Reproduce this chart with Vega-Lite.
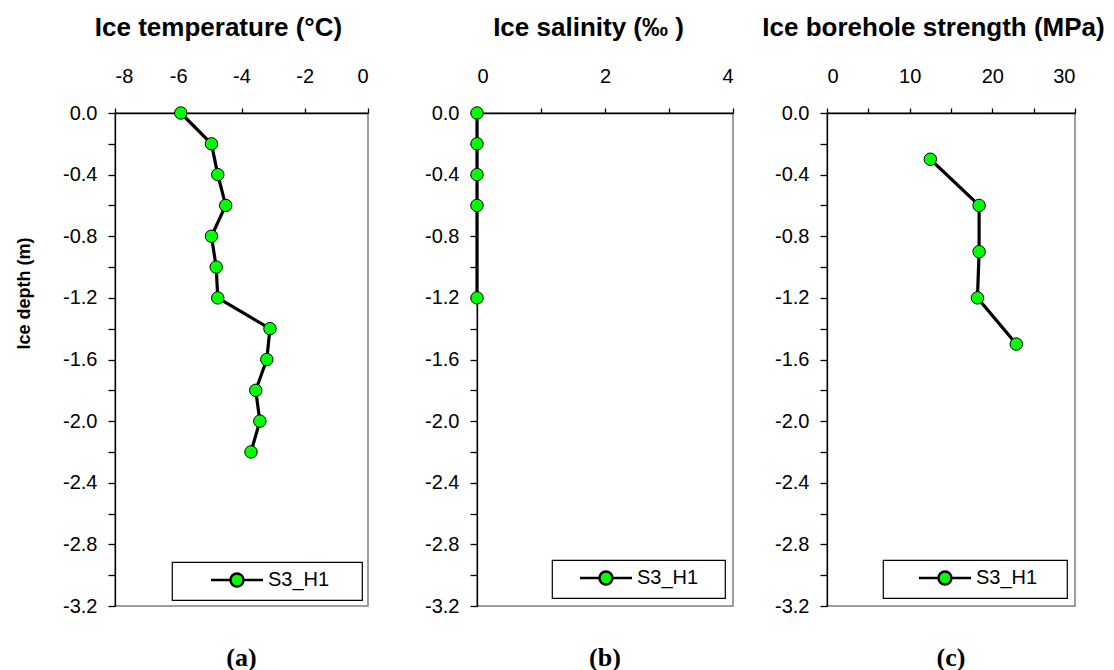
{
  "$schema": "https://vega.github.io/schema/vega-lite/v6.json",
  "background": "white",
  "padding": {"left": 14, "top": 13, "right": 0, "bottom": 0},
  "config": {
    "font": "Liberation Sans",
    "view": {"stroke": "#7f7f7f", "strokeWidth": 1.5},
    "axis": {
      "domainColor": "black", "domainWidth": 1.3, "tickColor": "black", "tickWidth": 1.3,
      "labelColor": "black", "titleColor": "black",
      "labelFont": "Liberation Sans", "labelFontSize": 20,
      "titleFont": "Liberation Sans", "titleFontSize": 26, "titleFontWeight": "bold",
      "grid": false
    },
    "legend": {
      "orient": "bottom-right", "padding": 8, "strokeColor": "black", "strokeWidth": 1.2, "fillColor": "white",
      "symbolSize": 196, "symbolStrokeColor": "black", "symbolStrokeWidth": 2.4, "symbolFillColor": "#00ff00",
      "labelFontSize": 20, "labelFont": "Liberation Sans", "labelColor": "black", "labelOffset": 40
    }
  },
  "datasets": {
    "temp": [
      {"series": "S3_H1", "depth": 0.0, "value": -5.92},
      {"series": "S3_H1", "depth": -0.2, "value": -4.95},
      {"series": "S3_H1", "depth": -0.4, "value": -4.75},
      {"series": "S3_H1", "depth": -0.6, "value": -4.5},
      {"series": "S3_H1", "depth": -0.8, "value": -4.95},
      {"series": "S3_H1", "depth": -1.0, "value": -4.8},
      {"series": "S3_H1", "depth": -1.2, "value": -4.75},
      {"series": "S3_H1", "depth": -1.4, "value": -3.1},
      {"series": "S3_H1", "depth": -1.6, "value": -3.2},
      {"series": "S3_H1", "depth": -1.8, "value": -3.55},
      {"series": "S3_H1", "depth": -2.0, "value": -3.42},
      {"series": "S3_H1", "depth": -2.2, "value": -3.7}
    ],
    "sal": [
      {"series": "S3_H1", "depth": 0.0, "value": 0},
      {"series": "S3_H1", "depth": -0.2, "value": 0},
      {"series": "S3_H1", "depth": -0.4, "value": 0},
      {"series": "S3_H1", "depth": -0.6, "value": 0},
      {"series": "S3_H1", "depth": -1.2, "value": 0}
    ],
    "str": [
      {"series": "S3_H1", "depth": -0.3, "value": 12.5},
      {"series": "S3_H1", "depth": -0.6, "value": 18.4},
      {"series": "S3_H1", "depth": -0.9, "value": 18.4},
      {"series": "S3_H1", "depth": -1.2, "value": 18.2},
      {"series": "S3_H1", "depth": -1.5, "value": 22.9}
    ]
  },
  "spacing": 109,
  "bounds": "flush",
  "resolve": {"scale": {"fill": "independent"}, "legend": {"fill": "independent"}},
  "hconcat": [
    {
      "width": 253, "height": 493,
      "data": {"name": "temp"},
      "title": {"text": "(a)", "orient": "bottom", "font": "Liberation Serif", "fontSize": 26, "fontWeight": "bold", "offset": 29, "anchor": "middle", "color": "black"},
      "encoding": {
        "x": {"field": "value", "type": "quantitative", "scale": {"domain": [-8, 0], "nice": false, "zero": false},
          "axis": {"orient": "top", "values": [-8, -6, -4, -2, 0], "title": "Ice temperature (°C)", "titleX": 103,
            "labelExpr": "replace(format(datum.value,'d'),'\u2212','-')", "tickSize": 5, "labelPadding": 22, "titlePadding": 26,
            "encode": {"ticks": {"update": {"y": {"value": -4}, "y2": {"value": 8}}}}}},
        "y": {"field": "depth", "type": "quantitative", "scale": {"domain": [-3.2, 0], "nice": false, "zero": false},
          "axis": {"title": "Ice depth (m)", "titleFontSize": 18, "titleY": 180, "values": [0, -0.2, -0.4, -0.6, -0.8, -1.0, -1.2, -1.4, -1.6, -1.8, -2.0, -2.2, -2.4, -2.6, -2.8, -3.0, -3.2],
            "labelExpr": "abs(round(datum.value*10)) % 4 == 0 ? replace(format(datum.value,'.1f'),'\u2212','-') : ''",
            "tickSize": 7, "labelPadding": 11, "titlePadding": 29,
            "encode": {"ticks": {"update": {"x": {"value": 6}, "x2": {"signal": "abs(round(datum.value*10)) % 4 == 0 ? -7 : 0"}}}}}}
      },
      "layer": [
        {"mark": {"type": "line", "color": "black", "strokeWidth": 3.2}, "encoding": {"order": {"field": "depth", "sort": "descending"}}},
        {"mark": {"type": "circle", "size": 155, "opacity": 1, "stroke": "black", "strokeWidth": 1},
          "encoding": {"fill": {"field": "series", "type": "nominal", "scale": {"range": ["#00ff00"]},
            "legend": {"title": null, "offset": 6, "symbolOffset": 28,
              "symbolType": "M-1,0L1.78,0M3.64,0L6.43,0M1.78,0A0.93,0.93,0,1,1,3.64,0A0.93,0.93,0,1,1,1.78,0ZM18.6,0"}}}}
      ]
    },
    {
      "spacing": 94,
      "bounds": "flush",
      "resolve": {"scale": {"fill": "independent"}, "legend": {"fill": "independent"}},
      "hconcat": [
        {
          "width": 256, "height": 493,
          "data": {"name": "sal"},
          "title": {"text": "(b)", "orient": "bottom", "font": "Liberation Serif", "fontSize": 26, "fontWeight": "bold", "offset": 29, "anchor": "middle", "color": "black"},
          "encoding": {
            "x": {"field": "value", "type": "quantitative", "scale": {"domain": [0, 4], "nice": false, "zero": false},
              "axis": {"orient": "top", "values": [0, 1, 2, 3, 4], "title": "Ice salinity (‰ )", "titleX": 111,
                "labelExpr": "datum.value % 2 == 0 ? format(datum.value,'d') : ''", "tickSize": 5, "labelPadding": 22, "titlePadding": 26,
                "encode": {"ticks": {"update": {"y": {"value": -4}, "y2": {"signal": "datum.value % 2 == 0 ? 8 : 0"}}}}}},
            "y": {"field": "depth", "type": "quantitative", "scale": {"domain": [-3.2, 0], "nice": false, "zero": false},
              "axis": {"title": null, "values": [0, -0.2, -0.4, -0.6, -0.8, -1.0, -1.2, -1.4, -1.6, -1.8, -2.0, -2.2, -2.4, -2.6, -2.8, -3.0, -3.2],
                "labelExpr": "abs(round(datum.value*10)) % 4 == 0 ? replace(format(datum.value,'.1f'),'\u2212','-') : ''",
                "tickSize": 7, "labelPadding": 11,
                "encode": {"ticks": {"update": {"x": {"value": 6}, "x2": {"signal": "abs(round(datum.value*10)) % 4 == 0 ? -7 : 0"}}}}}}
          },
          "layer": [
            {"mark": {"type": "line", "color": "black", "strokeWidth": 3.2}, "encoding": {"order": {"field": "depth", "sort": "descending"}}},
            {"mark": {"type": "circle", "size": 155, "opacity": 1, "stroke": "black", "strokeWidth": 1},
              "encoding": {"fill": {"field": "series", "type": "nominal", "scale": {"range": ["#00ff00"]},
                "legend": {"title": null, "offset": 8, "symbolOffset": 17,
                  "symbolType": "M-1,0L1.78,0M3.64,0L6.43,0M1.78,0A0.93,0.93,0,1,1,3.64,0A0.93,0.93,0,1,1,1.78,0ZM17.8,0"}}}}
          ]
        },
        {
          "width": 248, "height": 493,
          "data": {"name": "str"},
          "title": {"text": "(c)", "orient": "bottom", "font": "Liberation Serif", "fontSize": 26, "fontWeight": "bold", "offset": 29, "anchor": "middle", "color": "black"},
          "encoding": {
            "x": {"field": "value", "type": "quantitative", "scale": {"domain": [0, 30], "nice": false, "zero": false},
              "axis": {"orient": "top", "values": [0, 5, 10, 15, 20, 25, 30], "title": "Ice borehole strength (MPa)", "titleX": 106,
                "labelExpr": "datum.value % 10 == 0 ? format(datum.value,'d') : ''", "tickSize": 5, "labelPadding": 22, "titlePadding": 26,
                "encode": {"ticks": {"update": {"y": {"value": -4}, "y2": {"signal": "datum.value % 10 == 0 ? 8 : 0"}}}}}},
            "y": {"field": "depth", "type": "quantitative", "scale": {"domain": [-3.2, 0], "nice": false, "zero": false},
              "axis": {"title": null, "values": [0, -0.2, -0.4, -0.6, -0.8, -1.0, -1.2, -1.4, -1.6, -1.8, -2.0, -2.2, -2.4, -2.6, -2.8, -3.0, -3.2],
                "labelExpr": "abs(round(datum.value*10)) % 4 == 0 ? replace(format(datum.value,'.1f'),'\u2212','-') : ''",
                "tickSize": 7, "labelPadding": 11,
                "encode": {"ticks": {"update": {"x": {"value": 6}, "x2": {"signal": "abs(round(datum.value*10)) % 4 == 0 ? -7 : 0"}}}}}}
          },
          "layer": [
            {"mark": {"type": "line", "color": "black", "strokeWidth": 3.2}, "encoding": {"order": {"field": "depth", "sort": "descending"}}},
            {"mark": {"type": "circle", "size": 155, "opacity": 1, "stroke": "black", "strokeWidth": 1},
              "encoding": {"fill": {"field": "series", "type": "nominal", "scale": {"range": ["#00ff00"]},
                "legend": {"title": null, "offset": 8, "symbolOffset": 25,
                  "symbolType": "M-1,0L1.78,0M3.64,0L6.43,0M1.78,0A0.93,0.93,0,1,1,3.64,0A0.93,0.93,0,1,1,1.78,0ZM18.2,0"}}}}
          ]
        }
      ]
    }
  ]
}
